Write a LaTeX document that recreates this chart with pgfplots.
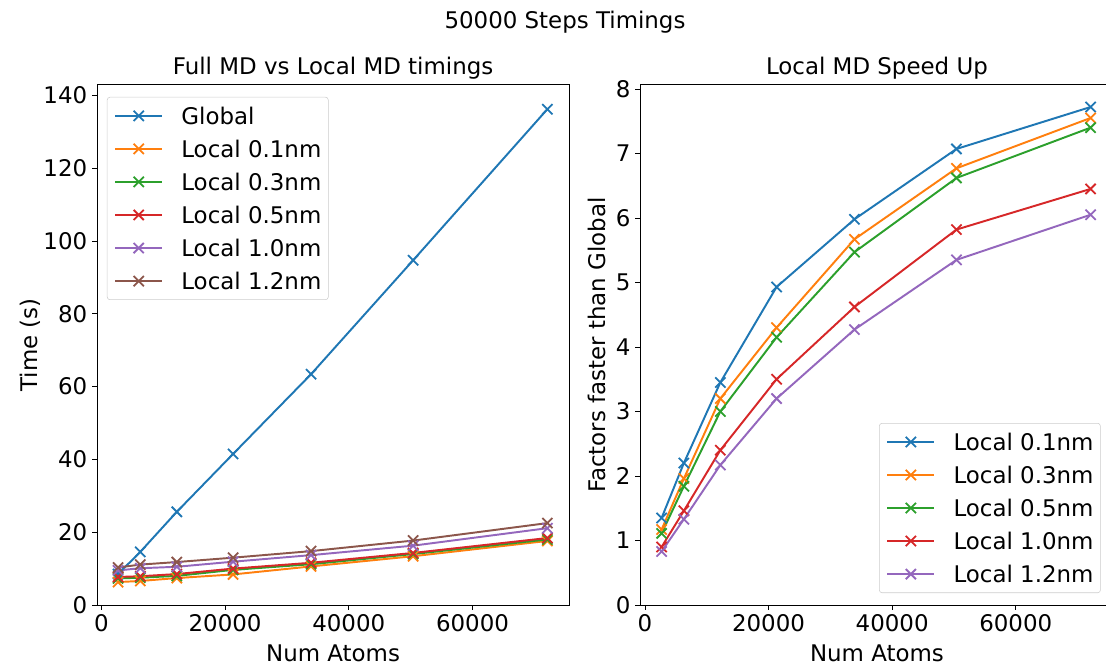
\documentclass[border=0pt]{standalone}
\usepackage{fontspec}
\setmainfont{DejaVu Sans}
\usepackage{pgfplots}
\pgfplotsset{compat=1.18}
\definecolor{c0}{HTML}{1F77B4}
\definecolor{c1}{HTML}{FF7F0E}
\definecolor{c2}{HTML}{2CA02C}
\definecolor{c3}{HTML}{D62728}
\definecolor{c4}{HTML}{9467BD}
\definecolor{c5}{HTML}{8C564B}
\newcommand{\fs}{\fontsize{16.5}{19}\selectfont}
\pgfplotsset{
  ser/.style={#1, line width=1.4pt, mark=x, mark size=5.2pt, mark options={solid, line width=1.3pt}},
  myaxis/.style={
    scale only axis, anchor=south west,
    height=374.8pt,
    ymin=0,
    tick align=outside, major tick length=3.5pt,
    tick style={black, line width=0.6pt},
    axis line style={line width=0.6pt},
    xtick pos=bottom, ytick pos=left,
    ticklabel style={font=\fs},
    /pgf/number format/assume math mode=true,
    /pgf/number format/1000 sep={},
    scaled ticks=false,
    xtick={0,20000,40000,60000},
    legend cell align=left,
    legend image code/.code={\draw[mark repeat=2,mark phase=2] plot coordinates {(0pt,0pt) (17pt,0pt) (34pt,0pt)};},
    legend style={font=\fs, draw=black!20, rounded corners=2pt, fill=white, fill opacity=0.8, text opacity=1,
      inner xsep=5pt, inner ysep=1.5pt, row sep=0pt,
      nodes={inner sep=0pt, text height=17.9pt, text depth=5.9pt},
      /tikz/every odd column/.append style={column sep=13pt}},
  }
}
\begin{document}
\begin{tikzpicture}
\useasboundingbox (0,0) rectangle (796.32pt,478.8pt);
\begin{axis}[myaxis, at={(69.84pt,43.2pt)}, width=340.3pt,
  xmin=-700, xmax=75700, ymax=143,
  ytick={0,20,40,60,80,100,120,140},
  legend style={at={(0.021,0.976)}, anchor=north west}]
\addplot[ser=c0] coordinates {(2700,8.5) (6300,14.6) (12200,25.6) (21300,41.5) (33900,63.4) (50400,94.7) (72100,136.2)};
\addlegendentry{Global}
\addplot[ser=c1] coordinates {(2700,6.3) (6300,6.6) (12200,7.4) (21300,8.4) (33900,10.6) (50400,13.4) (72100,17.6)};
\addlegendentry{Local 0.1nm}
\addplot[ser=c2] coordinates {(2700,7.3) (6300,7.5) (12200,8.0) (21300,9.65) (33900,11.2) (50400,14.0) (72100,18.0)};
\addlegendentry{Local 0.3nm}
\addplot[ser=c3] coordinates {(2700,7.7) (6300,7.9) (12200,8.5) (21300,10.0) (33900,11.6) (50400,14.3) (72100,18.4)};
\addlegendentry{Local 0.5nm}
\addplot[ser=c4] coordinates {(2700,9.5) (6300,10.1) (12200,10.5) (21300,11.9) (33900,13.7) (50400,16.3) (72100,21.1)};
\addlegendentry{Local 1.0nm}
\addplot[ser=c5] coordinates {(2700,10.3) (6300,11.1) (12200,11.8) (21300,13.0) (33900,14.8) (50400,17.7) (72100,22.5)};
\addlegendentry{Local 1.2nm}
\end{axis}
\begin{axis}[myaxis, at={(461.0pt,43.2pt)}, width=340pt,
  xmin=-750, xmax=75650, ymax=8.07,
  ytick={0,1,2,3,4,5,6,7,8},
  legend style={at={(0.975,0.023)}, anchor=south east}]
\addplot[ser=c0] coordinates {(2700,1.35) (6300,2.2) (12200,3.45) (21300,4.93) (33900,5.98) (50400,7.07) (72100,7.72)};
\addlegendentry{Local 0.1nm}
\addplot[ser=c1] coordinates {(2700,1.17) (6300,1.96) (12200,3.2) (21300,4.3) (33900,5.67) (50400,6.77) (72100,7.55)};
\addlegendentry{Local 0.3nm}
\addplot[ser=c2] coordinates {(2700,1.11) (6300,1.84) (12200,3.0) (21300,4.15) (33900,5.47) (50400,6.62) (72100,7.4)};
\addlegendentry{Local 0.5nm}
\addplot[ser=c3] coordinates {(2700,0.9) (6300,1.46) (12200,2.4) (21300,3.5) (33900,4.62) (50400,5.82) (72100,6.45)};
\addlegendentry{Local 1.0nm}
\addplot[ser=c4] coordinates {(2700,0.83) (6300,1.33) (12200,2.17) (21300,3.2) (33900,4.27) (50400,5.35) (72100,6.05)};
\addlegendentry{Local 1.2nm}
\end{axis}
\node[font=\fs, inner sep=0pt] at (406.8pt,463pt) {50000 Steps Timings};
\node[font=\fs, inner sep=0pt] at (239.8pt,429.8pt) {Full MD vs Local MD timings};
\node[font=\fs, inner sep=0pt] at (631.4pt,429.8pt) {Local MD Speed Up};
\node[font=\fs, inner sep=0pt] at (239.8pt,8.64pt) {Num Atoms};
\node[font=\fs, inner sep=0pt] at (631.4pt,8.64pt) {Num Atoms};
\node[font=\fs, inner sep=0pt, rotate=90] at (21.6pt,230.4pt) {Time (s)};
\node[font=\fs, inner sep=0pt, rotate=90] at (429.8pt,230.4pt) {Factors faster than Global};
\end{tikzpicture}
\end{document}
